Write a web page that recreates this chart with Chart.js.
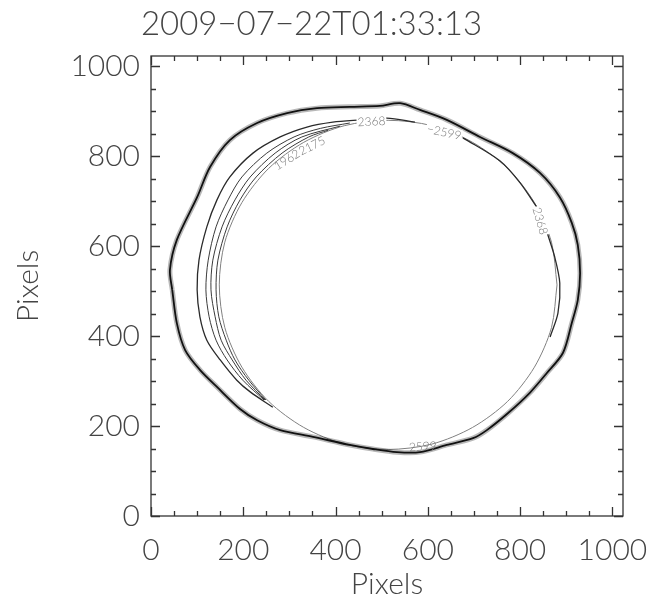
<!DOCTYPE html>
<html>
<head>
<meta charset="utf-8">
<script src="https://cdn.jsdelivr.net/npm/chart.js@4.4.1/dist/chart.umd.min.js"></script>
<style>
  html, body { margin: 0; padding: 0; background: #fff; }
</style>
</head>
<body>
<canvas id="chart" width="651" height="602"></canvas>
<script>
const plotTitle = '2009\u221207\u221222T01:33:13';
const axisTicks = [0, 200, 400, 600, 800, 1000];

// noisy outer front
const outerFront = [
  [46,503],[41,547],[56,614],[100,709],[128,776],[171,836],[230,874],[295,896],[360,907],
  [431,910],[496,912],[540,918],[583,903],[641,881],[713,843],[784,807],[843,763],[886,709],
  [912,652],[925,603],[930,540],[925,480],[912,429],[893,363],[858,318],[821,274],[774,229],
  [728,191],[698,173],[641,158],[583,142],[533,142],[481,149],[431,158],[351,176],[280,191],
  [230,213],[193,238],[143,287],[106,325],[74,369],[56,429],[46,503]
];

// level 2368 (gaps where labels sit)
const level2368 = [
  [264,242],[215,276],[186,302],[150,347],[121,391],[106,443],[100,503],[104,569],[121,643],
  [143,703],[171,754],[221,807],[280,843],[338,865],[394,876],[453,881],[511,885],[572,876],
  [620,null],[676,841],[756,790],[800,741],[836,687],[846,null],[858,632],[875,576],[886,518],
  [882,451],[865,398]
];

const level2175 = [
  [245,258],[199,302],[165,347],[141,391],[126,443],[119,503],[124,569],[141,643],[167,703],
  [197,754],[251,807],[310,843],[367,862],[431,874]
];
const level1962 = [
  [247,258],[206,302],[176,347],[152,391],[139,443],[130,503],[134,569],[154,643],[182,703],
  [215,754],[269,807],[327,843],[410,867]
];
const level1750 = [
  [249,258],[212,302],[182,347],[163,391],[147,443],[141,503],[145,569],[165,643],[193,703],
  [228,754],[284,807],[342,843],[384,858]
];

// level -2599 (the disk edge)
const diskEdge = [
  [880,514],[868,609],[831,697],[773,773],[697,831],[609,868],[514,880],[419,868],[331,831],
  [255,773],[197,697],[160,609],[148,514],[160,419],[197,331],[255,255],[331,197],[419,160],
  [514,148],[609,160],[697,197],[773,255],[831,331],[868,419],[880,514]
];

const contourLabels = [
  { text: '2368', x: 478, y: 877, angle: -3, bg: true },
  { text: '\u22122599', x: 635, y: 853, angle: 12, bg: true },
  { text: '2368', x: 843, y: 656, angle: 74, bg: true },
  { text: '2599', x: 589, y: 154, angle: -4, bg: false },
  { text: '1962', x: 295, y: 792, angle: -32, bg: false },
  { text: '2175', x: 349, y: 823, angle: -26, bg: false }
];

const curve = (points, color, width) => ({
  data: points.map(([x, y]) => ({ x, y })),
  showLine: true,
  borderColor: color,
  borderWidth: width,
  pointRadius: 0,
  tension: 0.3,
  fill: false
});

const framePlugin = {
  id: 'frame',
  afterDraw(chart) {
    const { ctx, chartArea: a, scales: { x, y } } = chart;
    ctx.save();
    ctx.strokeStyle = '#333';
    ctx.lineWidth = 1.3;
    ctx.strokeRect(a.left, a.top, a.right - a.left, a.bottom - a.top);
    ctx.beginPath();
    for (let v = 0; v <= 1000; v += 50) {
      const len = v % 200 === 0 ? 9 : 5;
      const px = Math.round(x.getPixelForValue(v)) + 0.5;
      const py = Math.round(y.getPixelForValue(v)) + 0.5;
      ctx.moveTo(px, a.bottom); ctx.lineTo(px, a.bottom - len);
      ctx.moveTo(px, a.top); ctx.lineTo(px, a.top + len);
      ctx.moveTo(a.left, py); ctx.lineTo(a.left + len, py);
      ctx.moveTo(a.right, py); ctx.lineTo(a.right - len, py);
    }
    ctx.stroke();
    ctx.restore();
  }
};

const labelPlugin = {
  id: 'contourLabels',
  afterDatasetsDraw(chart) {
    const { ctx, scales: { x, y } } = chart;
    ctx.save();
    ctx.font = '300 12px Lato, "DejaVu Sans", sans-serif';
    ctx.textAlign = 'center';
    ctx.textBaseline = 'middle';
    for (const l of contourLabels) {
      ctx.save();
      ctx.translate(x.getPixelForValue(l.x), y.getPixelForValue(l.y));
      ctx.rotate(l.angle * Math.PI / 180);
      if (l.bg) {
        const w = ctx.measureText(l.text).width;
        ctx.fillStyle = '#fff';
        ctx.fillRect(-w / 2 - 1, -6, w + 2, 12);
      }
      ctx.fillStyle = '#777';
      ctx.fillText(l.text, 0, 0);
      ctx.restore();
    }
    ctx.restore();
  }
};

const tickFont = { family: 'Lato, "DejaVu Sans", sans-serif', size: 30, weight: 300 };
const titleFont = { family: 'Lato, "DejaVu Sans", sans-serif', size: 30, weight: 300 };

new Chart(document.getElementById('chart'), {
  type: 'scatter',
  data: {
    datasets: [
      curve(outerFront, '#111', 1.8),
      curve(outerFront, 'rgba(0,0,0,0.28)', 5),
      curve(level2368, '#2a2a2a', 1.3),
      curve(level2175, '#3a3a3a', 1),
      curve(level1962, '#3a3a3a', 1),
      curve(level1750, '#3a3a3a', 1),
      curve(diskEdge, '#808080', 1)
    ]
  },
  options: {
    responsive: false,
    animation: false,
    layout: { padding: { left: 0, right: 28, top: 0, bottom: 0 } },
    plugins: {
      legend: { display: false },
      tooltip: { enabled: false },
      title: {
        display: true,
        text: plotTitle,
        color: '#444',
        font: { family: 'Lato, "DejaVu Sans", sans-serif', size: 33, weight: 300 },
        padding: { top: 5, bottom: 11.4 }
      }
    },
    scales: {
      x: {
        type: 'linear',
        min: 0,
        max: 1023,
        grid: { display: false, drawTicks: false },
        border: { display: false },
        afterBuildTicks: s => { s.ticks = axisTicks.map(v => ({ value: v })); },
        afterFit: s => { s.height = 86; s.paddingLeft = 0; s.paddingRight = 0; },
        ticks: { color: '#444', font: tickFont, padding: 16, maxRotation: 0, callback: v => String(v) },
        title: { display: true, text: 'Pixels', color: '#444', font: titleFont, padding: { top: 0, bottom: 0 } }
      },
      y: {
        type: 'linear',
        min: 0,
        max: 1023,
        grid: { display: false, drawTicks: false },
        border: { display: false },
        afterBuildTicks: s => { s.ticks = axisTicks.map(v => ({ value: v })); },
        afterFit: s => { s.width = 151; s.paddingTop = 0; s.paddingBottom = 0; },
        ticks: { color: '#444', font: tickFont, padding: 11, callback: v => String(v) },
        title: { display: true, text: 'Pixels', color: '#444', font: titleFont, padding: { top: 10 } }
      }
    }
  },
  plugins: [framePlugin, labelPlugin]
});
</script>
</body>
</html>
